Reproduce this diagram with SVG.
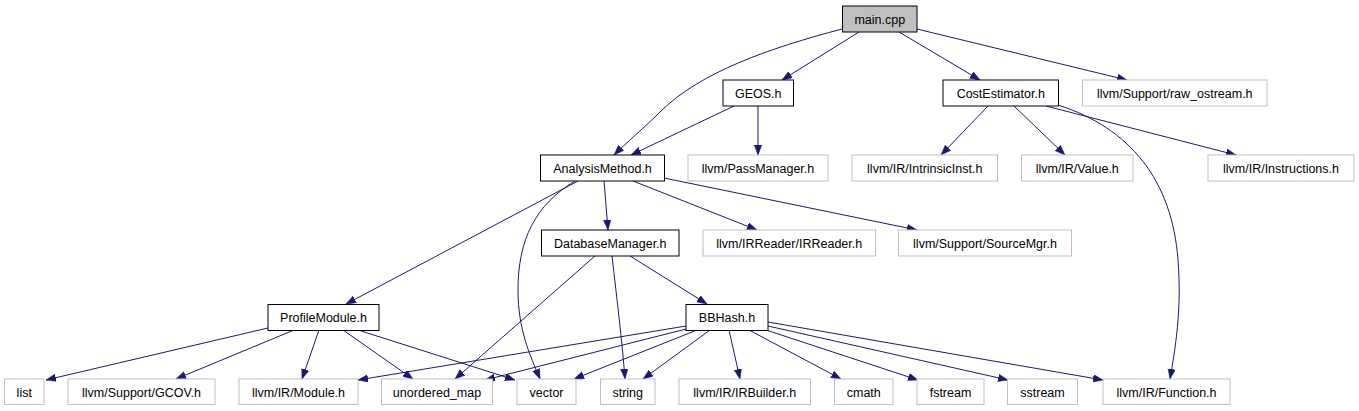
<svg xmlns="http://www.w3.org/2000/svg" width="1359" height="411" viewBox="0 0 1359 411">
<style>
.n rect{fill:#fff;stroke:#000;stroke-width:1}
.g rect{fill:#fff;stroke:#bfbfbf;stroke-width:1}
.m rect{fill:#bfbfbf;stroke:#000;stroke-width:1}
text{font-family:"Liberation Sans",Arial,Helvetica,sans-serif;font-size:12.5px;fill:#000;text-anchor:middle}
#edges path{fill:none;stroke:#191970;stroke-width:1;marker-end:url(#ah)}
</style>
<defs>
<marker id="ah" markerUnits="userSpaceOnUse" markerWidth="11" markerHeight="8" refX="10" refY="3.75" orient="auto">
<path d="M0,0 L10,3.75 L0,7.5 z" fill="#191970" stroke="#191970" stroke-width="0.5"/>
</marker>
</defs>
<rect width="1359" height="411" fill="#fff"/>
<g id="edges">
<path d="M842,29 C770,48 700,72 660,112 C645,127 625,144 614,155"/>
<path d="M859,32 L782,80"/>
<path d="M899,32 L980,80"/>
<path d="M917,29 L1127,80"/>
<path d="M734,106 L631,155"/>
<path d="M758,106 L758,155"/>
<path d="M988,106 L941,155"/>
<path d="M1014,106 L1065,155"/>
<path d="M1046,106 L1236,155"/>
<path d="M1058,105 C1130,128 1172,180 1178,260 C1182,310 1175,350 1170,379"/>
<path d="M578,181 L346,304"/>
<path d="M575,181 C535,205 518,240 518,290 C518,330 530,355 540,379"/>
<path d="M604,181 L608,230"/>
<path d="M633,181 L757,230"/>
<path d="M664,178 L917,230"/>
<path d="M595,256 L455,379"/>
<path d="M612,256 C617,300 622,340 625,379"/>
<path d="M630,256 L707,304"/>
<path d="M268,328 L46,380"/>
<path d="M294,330 L176,379"/>
<path d="M319,330 L302,379"/>
<path d="M343,330 L413,379"/>
<path d="M358,330 L515,380"/>
<path d="M686,326 L358,380"/>
<path d="M686,329 L485,380"/>
<path d="M697,330 L574,379"/>
<path d="M710,330 L643,379"/>
<path d="M729,330 L740,379"/>
<path d="M749,330 L841,379"/>
<path d="M766,330 L918,380"/>
<path d="M768,326 L1008,380"/>
<path d="M768,322 L1103,380"/>
</g>
<g id="main_cpp" class="m"><rect x="842.5" y="6" width="74.5" height="26"/><text x="879.75" y="23.5">main.cpp</text></g>
<g id="GEOS_h" class="n"><rect x="723" y="80" width="70.5" height="26"/><text x="758.25" y="97.5">GEOS.h</text></g>
<g id="CostEstimator_h" class="n"><rect x="943" y="80" width="115.5" height="26"/><text x="1000.75" y="97.5">CostEstimator.h</text></g>
<g id="raw_ostream_h" class="g"><rect x="1082.5" y="80" width="184.5" height="26"/><text x="1174.75" y="97.5">llvm/Support/raw_ostream.h</text></g>
<g id="AnalysisMethod_h" class="n"><rect x="540.5" y="155" width="124" height="26"/><text x="602.5" y="172.5">AnalysisMethod.h</text></g>
<g id="PassManager_h" class="g"><rect x="688" y="155" width="140" height="26"/><text x="758" y="172.5">llvm/PassManager.h</text></g>
<g id="IntrinsicInst_h" class="g"><rect x="852" y="155" width="145.5" height="26"/><text x="924.75" y="172.5">llvm/IR/IntrinsicInst.h</text></g>
<g id="Value_h" class="g"><rect x="1021.5" y="155" width="111.5" height="26"/><text x="1077.25" y="172.5">llvm/IR/Value.h</text></g>
<g id="Instructions_h" class="g"><rect x="1208" y="155" width="146" height="26"/><text x="1281" y="172.5">llvm/IR/Instructions.h</text></g>
<g id="DatabaseManager_h" class="n"><rect x="541.5" y="230" width="137.5" height="26"/><text x="610.25" y="247.5">DatabaseManager.h</text></g>
<g id="IRReader_h" class="g"><rect x="703" y="230" width="172.5" height="26"/><text x="789.25" y="247.5">llvm/IRReader/IRReader.h</text></g>
<g id="SourceMgr_h" class="g"><rect x="898.5" y="230" width="173" height="26"/><text x="985" y="247.5">llvm/Support/SourceMgr.h</text></g>
<g id="ProfileModule_h" class="n"><rect x="268" y="304.5" width="111" height="26"/><text x="323.5" y="322">ProfileModule.h</text></g>
<g id="BBHash_h" class="n"><rect x="686" y="304.5" width="82" height="26"/><text x="727" y="322">BBHash.h</text></g>
<g id="list" class="g"><rect x="4.5" y="379" width="39.5" height="25.5"/><text x="24.25" y="396.5">list</text></g>
<g id="GCOV_h" class="g"><rect x="68" y="379" width="147" height="25.5"/><text x="141.5" y="396.5">llvm/Support/GCOV.h</text></g>
<g id="Module_h" class="g"><rect x="239" y="379" width="119" height="25.5"/><text x="298.5" y="396.5">llvm/IR/Module.h</text></g>
<g id="unordered_map" class="g"><rect x="381.5" y="379" width="111" height="25.5"/><text x="437" y="396.5">unordered_map</text></g>
<g id="vector" class="g"><rect x="517" y="379" width="59" height="25.5"/><text x="546.5" y="396.5">vector</text></g>
<g id="string" class="g"><rect x="600.5" y="379" width="54.5" height="25.5"/><text x="627.75" y="396.5">string</text></g>
<g id="IRBuilder_h" class="g"><rect x="679" y="379" width="131.5" height="25.5"/><text x="744.75" y="396.5">llvm/IR/IRBuilder.h</text></g>
<g id="cmath" class="g"><rect x="834.5" y="379" width="58.5" height="25.5"/><text x="863.75" y="396.5">cmath</text></g>
<g id="fstream" class="g"><rect x="917" y="379" width="67" height="25.5"/><text x="950.5" y="396.5">fstream</text></g>
<g id="sstream" class="g"><rect x="1007.5" y="379" width="70" height="25.5"/><text x="1042.5" y="396.5">sstream</text></g>
<g id="Function_h" class="g"><rect x="1103" y="379" width="127" height="25.5"/><text x="1166.5" y="396.5">llvm/IR/Function.h</text></g>
</svg>
